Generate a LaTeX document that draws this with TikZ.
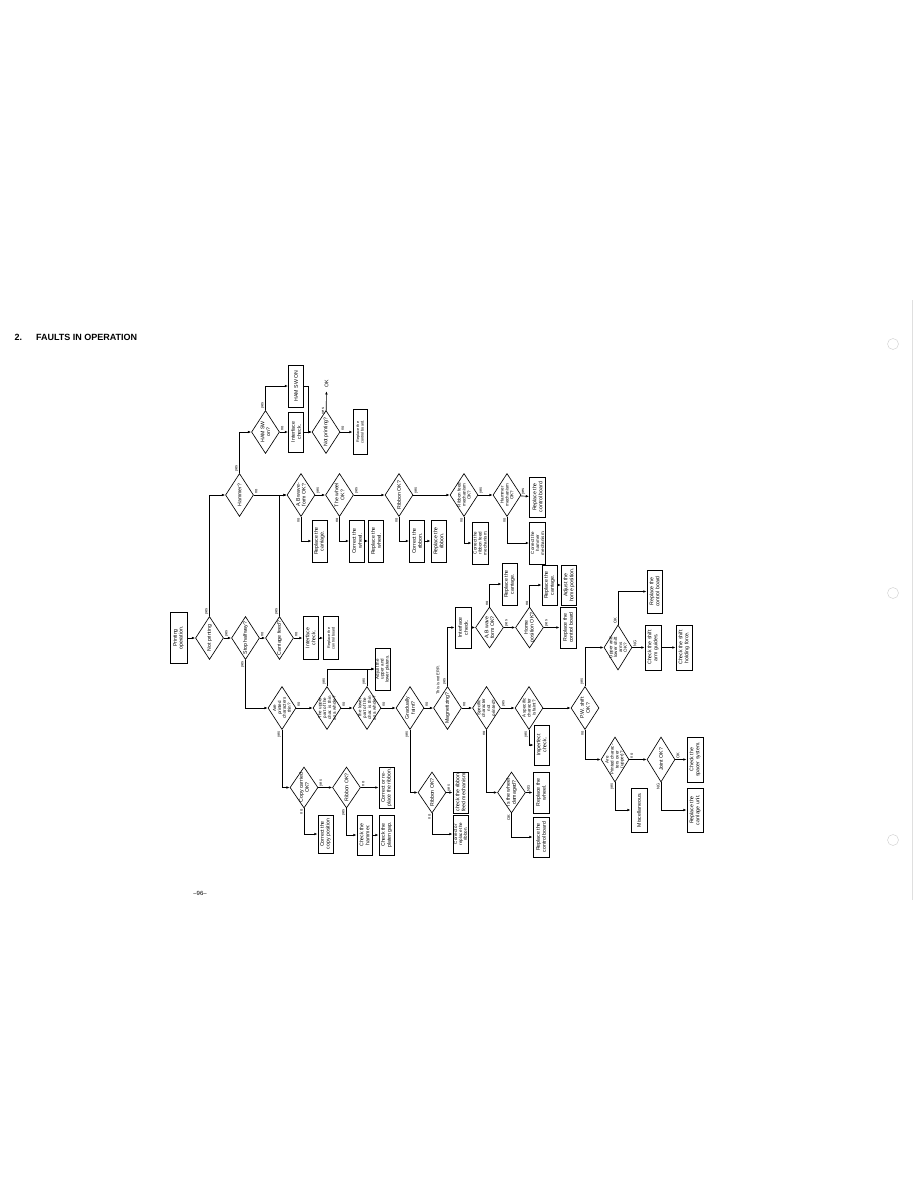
\documentclass[tikz,border=0pt]{standalone}
\usepackage{fontspec}
\setmainfont{Liberation Sans}
\usetikzlibrary{shapes.geometric,arrows.meta}
\newcommand\fsbox{\fontsize{5.2}{5.8}\selectfont}
\newcommand\fsthree{\fontsize{4.5}{4.9}\selectfont}
\newcommand\fstiny{\fontsize{3.8}{4.4}\selectfont}
\newcommand\fslab{\fontsize{4}{4.2}\selectfont}
\tikzset{
  dia/.style={draw, diamond, minimum width=28pt, minimum height=43pt, inner sep=0pt, line width=0.65pt},
  box/.style={draw, minimum width=15pt, minimum height=42pt, inner sep=0pt, line width=1pt},
  txt/.style={rotate=90, align=center, font=\fsbox, inner sep=0pt},
  txtthree/.style={rotate=90, align=center, font=\fsthree, inner sep=0pt},
  tinytxt/.style={rotate=90, align=center, font=\fstiny, inner sep=0pt},
  flow/.style={->, line width=0.65pt},
  labR/.style={rotate=90, font=\fslab, inner sep=1pt, anchor=north west},
  labD/.style={rotate=90, font=\fslab, inner sep=1pt, anchor=south east},
  labU/.style={rotate=90, font=\fslab, inner sep=1pt, anchor=south west},
}
\begin{document}
\begin{tikzpicture}[x=1pt, y=-1pt, >={Latex[length=3.2pt,width=2.6pt]}]
\useasboundingbox (0,0) rectangle (918,1188);
\fill[white] (0,0) rectangle (918,1188);

% heading, page number, margin
\node[anchor=west, font=\fontsize{9}{10}\selectfont\bfseries] (title) at (11,337) {2.\hspace{14pt}FAULTS IN OPERATION};
\node[font=\fontsize{6}{7}\selectfont] (pageno) at (200,893) {--96--};
\foreach \y in {344,593,840}
  \draw[gray!40, line width=0.4pt] (893,\y) circle (5.5);
\draw[gray!25, line width=0.4pt] (912,300) -- (912,900);

% ---- first column
\node[box, minimum height=51pt, minimum width=17pt, label={[txt]center:{Printing\\operation.}}] (start) at (178.5,638) {};
\node[dia, label={[txt]center:{Not printing}}] (notpr) at (209.5,638) {};
\node[dia, label={[txt]center:{Stop halfway?}}] (stophalf) at (245.5,638) {};
\node[dia, label={[txt]center:{Carriage feed?}}] (carfeed) at (279.5,638) {};
\node[box, minimum height=43pt, label={[txt]center:{Interface\\check.}}] (ifcB) at (310.5,638) {};
\node[box, minimum height=43pt, label={[tinytxt]center:{Replace the\\control board}}] (rcbB) at (331,638) {};

% ---- hammer branch
\node[dia, label={[txt]center:{Hammer?}}] (hammer) at (239.5,495) {};
\node[dia, label={[txt]center:{HAM SW\\on?}}] (hamsw) at (265.5,432) {};
\node[box, label={[txt]center:{HAM SW ON}}] (hamswon) at (296,386) {};
\node[box, minimum height=40pt, label={[txt]center:{Interface\\check.}}] (ifcA) at (296,432) {};
\node[dia, label={[txt]center:{Not printing?}}] (notprB) at (326,432) {};
\node (ok) at (326.5,384) {\rotatebox{90}{\fsbox OK}};
\node[box, minimum height=45pt, minimum width=14pt, label={[tinytxt]center:{Replace the\\control board.}}] (rcbA) at (360,432) {};

% ---- top row
\node[dia, label={[txt]center:{A,B wave-\\form OK?}}] (abwave) at (301,495) {};
\node[dia, label={[txt]center:{The wheel\\OK?}}] (wheel) at (339.5,495) {};
\node[dia, label={[txt]center:{Ribbon OK?}}] (ribbon) at (399,495) {};
\node[dia, label={[txtthree]center:{Ribbon feed\\mechanism\\OK?}}] (rfeed) at (464,495) {};
\node[dia, label={[txtthree]center:{Hammer\\mechanism\\OK?}}] (hmech) at (507,495) {};
\node[box, minimum height=40pt, minimum width=16pt, label={[txt]center:{Replace the\\control board}}] (rcbC) at (537.5,497) {};
\node[box, label={[txt]center:{Replace the\\carriage.}}] (rcarA) at (319.5,541) {};
\node[box, label={[txt]center:{Correct the\\wheel.}}] (cwheel) at (357,541) {};
\node[box, label={[txt]center:{Replace the\\wheel.}}] (rwheel) at (376,541) {};
\node[box, label={[txt]center:{Correct the\\ribbon.}}] (crib) at (417,541) {};
\node[box, label={[txt]center:{Replace the\\ribbon.}}] (rrib) at (438.5,541) {};
\node[box, minimum width=16pt, label={[txtthree]center:{Correct the\\ribbon feed\\mechanism.}}] (crfeed) at (480,543) {};
\node[box, minimum width=16pt, label={[txtthree]center:{Correct the\\hammer\\mechanism.}}] (chmech) at (537.5,543) {};

% ---- middle row
\node[dia, label={[txtthree]center:{Are\\printed\\characters\\thin?}}] (thin) at (282,708) {};
\node[dia, label={[txtthree]center:{The upper\\part of the\\char. is thin\\as a whole?}}] (upper) at (327,708) {};
\node[dia, label={[txtthree]center:{The lower\\part of the\\char. is thin\\as a whole?}}] (lower) at (367,708) {};
\node[box, label={[txtthree]center:{Adjust the\\upper and\\lower platens.}}] (adjust) at (382.5,669) {};
\node[dia, label={[txt]center:{Gradually\\faint?}}] (grad) at (410,708) {};
\node[dia, label={[txt]center:{Magnetizing?}}] (magn) at (447.5,708) {};
\node[dia, label={[txtthree]center:{Specific\\character\\not\\printed?}}] (spec) at (486.5,708) {};
\node[dia, label={[txtthree]center:{A specific\\character\\is faint?}}] (aspec) at (529,708) {};
\node[dia, label={[txt]center:{P.W. shift\\OK?}}] (pw) at (585,708) {};
\node[rotate=90, font=\fslab] (noterr) at (438,680) {This is not ERR.};

% ---- interface / carriage group
\node[box, minimum width=16pt, minimum height=41pt, label={[txt]center:{Interface\\check.}}] (ifcC) at (463,627.5) {};
\node[dia, minimum height=41pt, label={[txt]center:{A,B wave\\form OK?}}] (abwaveB) at (489.5,627.5) {};
\node[dia, minimum height=41pt, label={[txt]center:{Home\\position OK?}}] (home) at (529.5,627.5) {};
\node[box, label={[txt]center:{Replace the\\carriage.}}] (rcarB) at (509.5,584) {};
\node[box, minimum height=40pt, label={[txt]center:{Replace the\\carriage.}}] (rcarC) at (549.5,585) {};
\node[box, minimum height=40pt, label={[txt]center:{Adjust the\\home position.}}] (adjhome) at (569,585) {};
\node[box, minimum width=16pt, minimum height=41pt, label={[txt]center:{Replace the\\control board}}] (rcbD) at (568,627.5) {};

% ---- shift arms
\node[dia, minimum height=45pt, label={[txtthree]center:{Upper and\\lower shift\\arms\\OK?}}] (arms) at (618,647.5) {};
\node[box, minimum height=43pt, label={[txt]center:{Replace the\\control board}}] (rcbE) at (654.5,591.5) {};
\node[box, minimum width=16pt, minimum height=45pt, label={[txt]center:{Check the shift\\arm guides.}}] (cguides) at (653,647.5) {};
\node[box, minimum width=16pt, minimum height=45pt, label={[txt]center:{Check the shift\\holding force.}}] (chold) at (684,647.5) {};

% ---- characters over
\node[dia, minimum height=45pt, label={[txtthree]center:{Are\\Printed charac-\\ters over\\(upper)?}}] (upperB) at (615,759.5) {};
\node[dia, minimum height=45pt, label={[txt]center:{Joint OK?}}] (joint) at (661,759.5) {};
\node[box, minimum width=16pt, minimum height=45pt, label={[txt]center:{Check the\\spacer system.}}] (cspacer) at (695,759.5) {};
\node[box, minimum width=16pt, minimum height=44pt, label={[txt]center:{Replace the\\carriage unit.}}] (rcunit) at (695,810) {};
\node[box, minimum width=16pt, minimum height=44pt, label={[txt]center:{Miscellaneous.}}] (misc) at (639,810) {};

% ---- lower part
\node[dia, minimum height=41pt, label={[txt]center:{Copy carried\\OK?}}] (copy) at (304,787.5) {};
\node[dia, minimum height=41pt, label={[txt]center:{Ribbon OK?}}] (ribbonB) at (346.5,787.5) {};
\node[box, minimum height=41pt, label={[txt]center:{Correct or re-\\place the ribbon.}}] (creplA) at (386.5,787.5) {};
\node[box, minimum height=38pt, label={[txt]center:{Correct the\\copy position}}] (ccopy) at (325.5,834) {};
\node[box, minimum height=40pt, label={[txt]center:{Check the\\hammer.}}] (chammer) at (364.5,835) {};
\node[box, minimum height=40pt, label={[txt]center:{Check the\\platen gap.}}] (cplaten) at (386.5,835) {};
\node[dia, minimum height=41pt, label={[txt]center:{Ribbon OK?}}] (ribbonC) at (432,792.5) {};
\node[box, minimum height=41pt, label={[txt]center:{check the ribbon\\feed mechanism}}] (crfeedB) at (460.5,792.5) {};
\node[box, minimum height=38pt, label={[txtthree]center:{Correct or\\replace the\\ribbon.}}] (creplB) at (460.5,834) {};
\node[dia, minimum height=41pt, label={[txt]center:{Is the wheel\\damaged?}}] (dmg) at (511.5,792.5) {};
\node[box, minimum width=16pt, minimum height=41pt, label={[txt]center:{Replace the\\wheel.}}] (rwheelB) at (541,792.5) {};
\node[box, minimum width=16pt, minimum height=40pt, label={[txt]center:{Replace the\\control board}}] (rcbF) at (541,837) {};
\node[box, minimum height=40pt, label={[txt]center:{Imperfect\\check.}}] (imperf) at (541.5,745) {};

% ---- connectors
\draw[flow] (start) -- (notpr);
\draw[flow] (notpr) |- node[labU, pos=0]{yes} (hammer);
\draw[flow] (notpr) -- node[labR, pos=0]{yes} (stophalf);
\draw[flow] (stophalf) -- node[labR, pos=0]{no} (carfeed);
\draw[flow] (stophalf) |- node[labD, pos=0]{yes} (thin);
\draw[flow] (carfeed) |- node[labU, pos=0]{yes} (abwave);
\draw[flow] (carfeed) -- node[labR, pos=0]{no} (ifcB);
\draw[flow] (ifcB) -- (rcbB);

\draw[flow] (hammer) |- node[labU, pos=0]{yes} (hamsw);
\draw[flow] (hammer) -- node[labR, pos=0]{no} (abwave);
\draw[flow] (hamsw) |- node[labU, pos=0]{yes} (hamswon);
\draw[flow] (hamsw) -- node[labR, pos=0]{no} (ifcA);
\draw[flow] (hamswon.east) -- ++(4,0) |- (notprB.west);
\draw[flow] (ifcA) -- (notprB);
\draw[flow] (notprB) -- node[labD, pos=0.2]{yes} (ok);
\draw[flow] (notprB) -- node[labR, pos=0]{no} (rcbA);

\draw[flow] (abwave) -- node[labR, pos=0]{yes} (wheel);
\draw[flow] (abwave) |- node[labD, pos=0]{no} (rcarA);
\draw[flow] (wheel) -- node[labR, pos=0]{yes} (ribbon);
\draw[flow] (wheel) |- node[labD, pos=0]{no} (cwheel);
\draw[flow] (cwheel) -- (rwheel);
\draw[flow] (ribbon) -- node[labR, pos=0]{yes} (rfeed);
\draw[flow] (ribbon) |- node[labD, pos=0]{no} (crib);
\draw[flow] (crib) -- (rrib);
\draw[flow] (rfeed) -- node[labR, pos=0]{yes} (hmech);
\draw[flow] (rfeed) |- node[labD, pos=0]{no} (crfeed);
\draw[flow] (hmech) -- node[labR, pos=0]{yes} (rcbC);
\draw[flow] (hmech) |- node[labD, pos=0]{no} (chmech);

\draw[flow] (thin) -- node[labR, pos=0]{no} (upper);
\draw[flow] (thin) |- node[labD, pos=0]{yes} (copy);
\draw[flow] (upper) |- node[labU, pos=0]{yes} (adjust);
\draw[flow] (upper) -- node[labR, pos=0]{no} (lower);
\draw[flow] (lower) |- node[labU, pos=0]{yes} (adjust);
\draw[flow] (lower) -- node[labR, pos=0]{no} (grad);
\draw[flow] (grad) |- node[labD, pos=0]{yes} (ribbonC);
\draw[flow] (grad) -- node[labR, pos=0]{no} (magn);
\draw[flow] (magn) |- node[labU, pos=0]{yes} (ifcC);
\draw[flow] (magn) -- node[labR, pos=0]{no} (spec);
\draw[flow] (ifcC) -- (abwaveB);
\draw[flow] (abwaveB) |- node[labU, pos=0]{no} (rcarB);
\draw[flow] (abwaveB) -- node[labR, pos=0]{yes} (home);
\draw[flow] (home) |- node[labU, pos=0]{no} (rcarC);
\draw[flow] (rcarC) -- (adjhome);
\draw[flow] (home) -- node[labR, pos=0]{yes} (rcbD);

\draw[flow] (spec) -- node[labR, pos=0]{yes} (aspec);
\draw[flow] (spec) |- node[labD, pos=0]{no} (dmg);
\draw[flow] (dmg) -- node[labR, pos=0]{NG} (rwheelB);
\draw[flow] (dmg) |- node[labD, pos=0]{OK} (rcbF);
\draw[flow] (aspec) |- node[labD, pos=0]{yes} (imperf);
\draw[flow] (aspec) -- (pw);

\draw[flow] (pw) |- node[labU, pos=0]{yes} (arms);
\draw[flow] (pw) |- node[labD, pos=0]{no} (upperB);
\draw[flow] (arms) |- node[labU, pos=0]{OK} (rcbE);
\draw[flow] (arms) -- node[labR, pos=0]{NG} (cguides);
\draw[flow] (cguides) -- (chold);
\draw[flow] (upperB) -- node[labR, pos=0]{no} (joint);
\draw[flow] (upperB) |- node[labD, pos=0]{yes} (misc);
\draw[flow] (joint) -- node[labR, pos=0]{OK} (cspacer);
\draw[flow] (joint) |- node[labD, pos=0]{NG} (rcunit);

\draw[flow] (copy) -- node[labR, pos=0]{yes} (ribbonB);
\draw[flow] (copy) |- node[labD, pos=0]{no} (ccopy);
\draw[flow] (ribbonB) |- node[labD, pos=0]{yes} (chammer);
\draw[flow] (ribbonB) -- node[labR, pos=0]{no} (creplA);
\draw[flow] (chammer) -- (cplaten);
\draw[flow] (ribbonC) -- node[labR, pos=0]{yes} (crfeedB);
\draw[flow] (ribbonC) |- node[labD, pos=0]{no} (creplB);
\end{tikzpicture}
\end{document}
